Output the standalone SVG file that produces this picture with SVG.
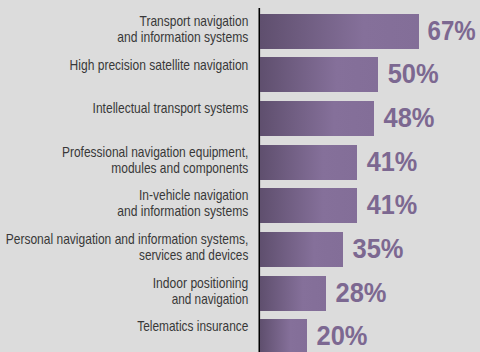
<svg xmlns="http://www.w3.org/2000/svg" width="480" height="352" viewBox="0 0 480 352">
<defs>
<linearGradient id="barGrad" x1="0" y1="0" x2="1" y2="0">
<stop offset="0" stop-color="#5f4f6e"/>
<stop offset="0.65" stop-color="#85709a"/>
<stop offset="1" stop-color="#836e98"/>
</linearGradient>
<style>
.bar{fill:url(#barGrad);}
.lbl{font-family:"Liberation Sans Narrow","Liberation Sans",Arial,sans-serif;font-size:14.3px;fill:#383838;text-anchor:end;}
.pct{font-family:"Liberation Sans Narrow","Liberation Sans",Arial,sans-serif;font-size:28px;font-weight:bold;fill:#7c6891;}
</style>
</defs>
<rect x="0" y="0" width="480" height="352" fill="#dcdcdc"/>
<g id="connectors">
<line x1="259.3" y1="8" x2="259.3" y2="352" stroke="#000" stroke-width="1.6"/>
</g>
<g id="row1">
<rect class="bar" x="260" y="14" width="159" height="35"/>
<text class="lbl" x="248.3" y="26" textLength="108.7" lengthAdjust="spacingAndGlyphs">Transport navigation</text>
<text class="lbl" x="248.3" y="42" textLength="131" lengthAdjust="spacingAndGlyphs">and information systems</text>
<text class="pct" transform="translate(427.5,39.5) scale(0.86,1)" x="0" y="0">67%</text>
</g>
<g id="row2">
<rect class="bar" x="260" y="57" width="118" height="35"/>
<text class="lbl" x="248.3" y="69.5" textLength="178.7" lengthAdjust="spacingAndGlyphs">High precision satellite navigation</text>
<text class="pct" x="387.7" y="82.5" textLength="51" lengthAdjust="spacingAndGlyphs">50%</text>
</g>
<g id="row3">
<rect class="bar" x="260" y="101" width="114" height="35"/>
<text class="lbl" x="248.3" y="113" textLength="155.7" lengthAdjust="spacingAndGlyphs">Intellectual transport systems</text>
<text class="pct" x="383.5" y="126.5" textLength="51" lengthAdjust="spacingAndGlyphs">48%</text>
</g>
<g id="row4">
<rect class="bar" x="260" y="145" width="97" height="35"/>
<text class="lbl" x="248.3" y="157" textLength="186.3" lengthAdjust="spacingAndGlyphs">Professional navigation equipment,</text>
<text class="lbl" x="248.3" y="173" textLength="137" lengthAdjust="spacingAndGlyphs">modules and components</text>
<text class="pct" x="366.7" y="170.5" textLength="50.6" lengthAdjust="spacingAndGlyphs">41%</text>
</g>
<g id="row5">
<rect class="bar" x="260" y="188" width="97" height="35"/>
<text class="lbl" x="248.3" y="200" textLength="109.3" lengthAdjust="spacingAndGlyphs">In-vehicle navigation</text>
<text class="lbl" x="248.3" y="216" textLength="131" lengthAdjust="spacingAndGlyphs">and information systems</text>
<text class="pct" x="366.7" y="213.5" textLength="50.6" lengthAdjust="spacingAndGlyphs">41%</text>
</g>
<g id="row6">
<rect class="bar" x="260" y="232" width="83" height="35"/>
<text class="lbl" x="248.3" y="244" textLength="242.6" lengthAdjust="spacingAndGlyphs">Personal navigation and information systems,</text>
<text class="lbl" x="248.3" y="260" textLength="109.3" lengthAdjust="spacingAndGlyphs">services and devices</text>
<text class="pct" x="352.5" y="257.5" textLength="51" lengthAdjust="spacingAndGlyphs">35%</text>
</g>
<g id="row7">
<rect class="bar" x="260" y="276" width="66" height="35"/>
<text class="lbl" x="248.3" y="288" textLength="95.6" lengthAdjust="spacingAndGlyphs">Indoor positioning</text>
<text class="lbl" x="248.3" y="304" textLength="76.6" lengthAdjust="spacingAndGlyphs">and navigation</text>
<text class="pct" x="335.5" y="301.5" textLength="51" lengthAdjust="spacingAndGlyphs">28%</text>
</g>
<g id="row8">
<rect class="bar" x="260" y="319" width="47" height="35"/>
<text class="lbl" x="248.3" y="331" textLength="111" lengthAdjust="spacingAndGlyphs">Telematics insurance</text>
<text class="pct" x="316.5" y="344.5" textLength="51" lengthAdjust="spacingAndGlyphs">20%</text>
</g>
</svg>
